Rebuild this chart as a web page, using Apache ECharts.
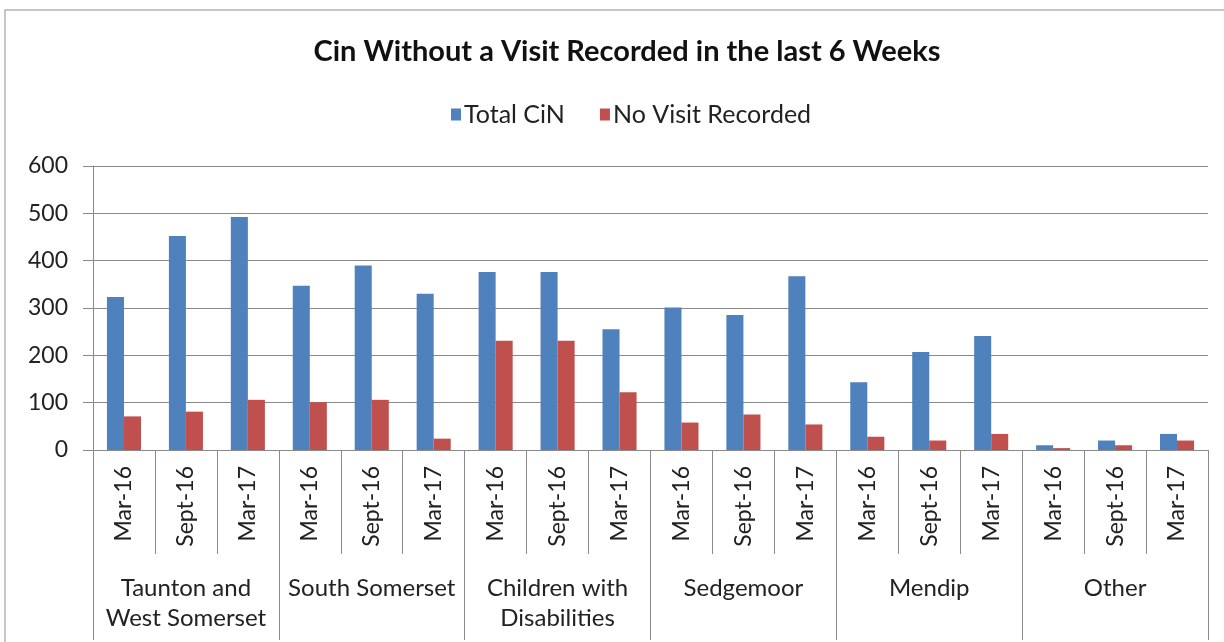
<!DOCTYPE html>
<html>
<head>
<meta charset="utf-8">
<script src="https://cdn.jsdelivr.net/npm/echarts@6/dist/echarts.min.js"></script>
<style>
  html, body { margin: 0; padding: 0; background: #fff; }
  #chart { width: 1224px; height: 642px; }
</style>
</head>
<body>
<div id="chart"></div>
<script>
// data
var periods = ['Mar-16', 'Sept-16', 'Mar-17'];
var groups = ['Taunton and\nWest Somerset', 'South Somerset', 'Children with\nDisabilities', 'Sedgemoor', 'Mendip', 'Other'];
var totalCin = [323, 452, 492, 347, 390, 330, 376, 376, 255, 301, 285, 367, 143, 207, 241, 10, 20, 34];
var noVisit = [71, 81, 106, 101, 106, 24, 231, 231, 122, 58, 75, 54, 28, 20, 34, 4, 10, 20];

var categories = [];
groups.forEach(function () {
    periods.forEach(function (p) { categories.push(p); });
});

var font = 'Lato';
var lineGrey = '#8a8a8a';

var chart = echarts.init(document.getElementById('chart'));
var option = {
    backgroundColor: '#fff',
    textStyle: { fontFamily: font },
    title: {
        text: 'Cin Without a Visit Recorded in the last 6 Weeks',
        left: 622,
        textAlign: 'center',
        top: 32,
        textStyle: { fontSize: 29, fontWeight: 'bold', color: '#111', fontFamily: font }
    },
    legend: {
        top: 97,
        left: 446,
        itemWidth: 10,
        itemHeight: 12,
        itemGap: 35,
        icon: 'rect',
        textStyle: { fontSize: 25, color: '#222', fontFamily: font, padding: [0, 0, 0, -2] },
        data: ['Total CiN', 'No Visit Recorded']
    },
    grid: { left: 93, right: 16, top: 166, bottom: 192, containLabel: false },
    xAxis: [
        {
            type: 'category',
            data: categories,
            position: 'bottom',
            axisLine: { show: true, lineStyle: { color: lineGrey } },
            axisTick: { show: true, length: 104, lineStyle: { color: lineGrey } },
            axisLabel: { interval: 0, rotate: 90, fontSize: 23, color: '#222', margin: 16, fontFamily: font }
        },
        {
            type: 'category',
            data: groups,
            position: 'bottom',
            offset: 0,
            axisLine: { show: false },
            axisTick: { show: true, length: 190, lineStyle: { color: lineGrey } },
            axisLabel: { interval: 0, fontSize: 24, color: '#222', margin: 123, lineHeight: 30, fontFamily: font }
        }
    ],
    yAxis: {
        type: 'value',
        min: 0,
        max: 600,
        interval: 100,
        axisLine: { show: true, lineStyle: { color: lineGrey } },
        axisTick: { show: true, length: 10, lineStyle: { color: lineGrey } },
        axisLabel: { fontSize: 23, color: '#222', margin: 25, fontFamily: font },
        splitLine: { show: true, lineStyle: { color: lineGrey, width: 1.2 } }
    },
    series: [
        {
            name: 'Total CiN',
            type: 'bar',
            xAxisIndex: 0,
            data: totalCin,
            barGap: '0%',
            barCategoryGap: '45%',
            itemStyle: { color: '#4F81BD' }
        },
        {
            name: 'No Visit Recorded',
            type: 'bar',
            xAxisIndex: 0,
            data: noVisit,
            itemStyle: { color: '#C0504D' }
        }
    ],
    graphic: [
        {
            type: 'rect',
            shape: { x: 5, y: 10, width: 1300, height: 700 },
            style: { fill: 'none', stroke: '#b4b4b4', lineWidth: 1.5 },
            silent: true
        }
    ]
};
chart.setOption(option);
</script>
</body>
</html>
